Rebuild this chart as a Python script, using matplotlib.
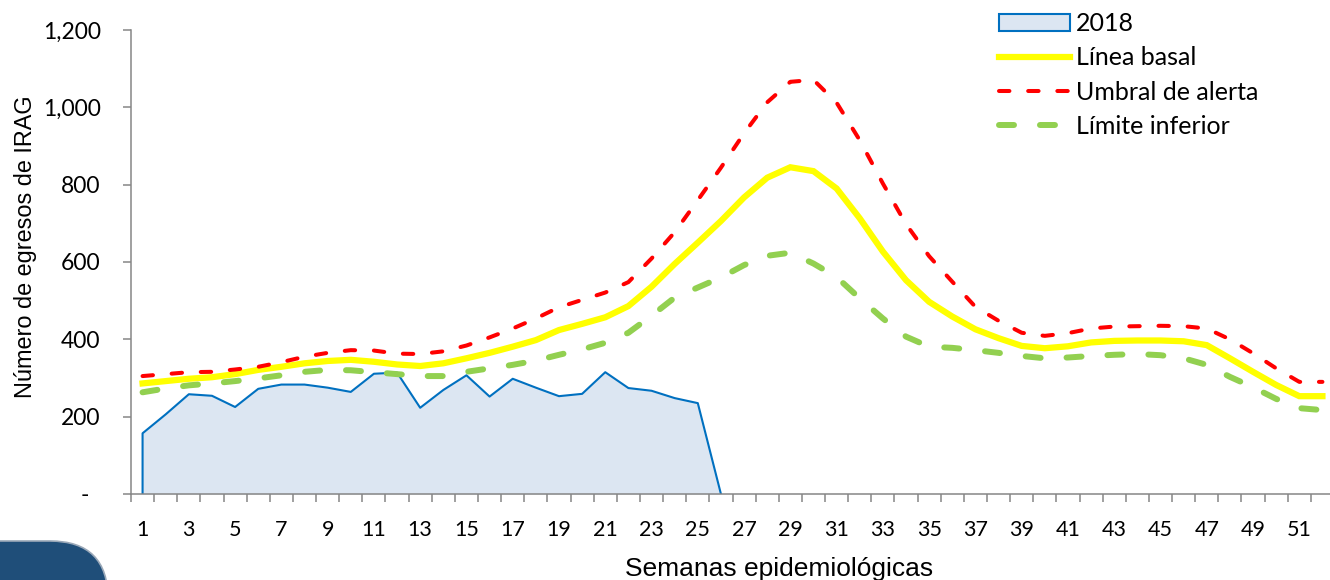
import matplotlib
matplotlib.use("Agg")
import matplotlib.pyplot as plt
import numpy as np
from matplotlib.lines import Line2D
from matplotlib.patches import Patch, FancyBboxPatch
from matplotlib.ticker import FixedLocator, FuncFormatter
from matplotlib.transforms import IdentityTransform

plt.rcParams['lines.scale_dashes'] = False

# Semanas epidemiológicas
semanas = np.arange(1, 53)

# Egresos IRAG 2018 (hasta la semana 26)
casos_2018 = [157, 206, 258, 254, 225, 272, 283, 283, 275, 264, 311, 314, 223,
              269, 307, 252, 298, 275, 253, 259, 315, 274, 267, 248, 235, 0]

# Canal endémico
linea_basal = [286, 292, 298, 302, 310, 321, 329, 338, 344, 347, 342, 335, 331,
               338, 351, 365, 381, 398, 424, 440, 457, 486, 536, 595, 650, 706,
               767, 818, 845, 835, 790, 713, 627, 553, 497, 459, 426, 403, 383,
               377, 382, 392, 396, 397, 397, 395, 385, 351, 316, 282, 253, 253]

umbral_alerta = [305, 310, 315, 316, 322, 329, 341, 355, 365, 372, 371, 363, 362,
                 369, 384, 405, 428, 454, 483, 502, 521, 548, 609, 677, 760, 844,
                 933, 1013, 1066, 1071, 1012, 915, 803, 698, 615, 549, 484, 448,
                 417, 409, 416, 428, 433, 434, 435, 434, 428, 400, 364, 325, 290, 290]

limite_inferior = [263, 273, 281, 286, 292, 299, 307, 316, 321, 320, 315, 310, 305,
                   305, 316, 325, 334, 345, 360, 374, 391, 417, 461, 508, 534, 560,
                   592, 616, 624, 596, 561, 506, 454, 407, 381, 378, 372, 365, 357,
                   351, 353, 357, 360, 362, 359, 351, 334, 303, 276, 246, 222, 217]

etiquetas = ["2018", "Línea basal", "Umbral de alerta", "Límite inferior"]

fuente_num = "Lato"
fuente_tit = "Liberation Sans"
gris = "#868686"

fig = plt.figure(figsize=(13.3, 5.8), dpi=100)
ax = fig.add_axes([131 / 1330, 1 - 494 / 580, (1334 - 131) / 1330, 464 / 580])

# área 2018
x18 = semanas[:len(casos_2018)]
ax.fill_between(x18, 0, casos_2018, color="#DCE6F2", lw=0, zorder=1)
ax.plot(np.r_[x18[0], x18], np.r_[0, casos_2018], color="#0070C0", lw=1.5, zorder=2)

ax.plot(semanas, linea_basal, color="#FFFF00", lw=4.5, solid_joinstyle="miter", zorder=3)
ax.plot(semanas, umbral_alerta, color="#FF0000", lw=2.9, dashes=(7.5, 13.5),
        dash_capstyle="round", zorder=4)
ax.plot(semanas, limite_inferior, color="#92D050", lw=4.3, dashes=(10.8, 18.7),
        dash_capstyle="round", zorder=4)

ax.set_xlim(0.5, 52.5)
ax.set_ylim(0, 1200)

for lado in ["top", "right"]:
    ax.spines[lado].set_visible(False)
for lado in ["left", "bottom"]:
    ax.spines[lado].set_color(gris)
    ax.spines[lado].set_linewidth(1.1)

# marcas entre semanas, etiquetas en semanas impares
ax.xaxis.set_major_locator(FixedLocator(np.arange(0.5, 53, 1)))
ax.xaxis.set_minor_locator(FixedLocator(np.arange(1, 53, 2)))
ax.xaxis.set_major_formatter(FuncFormatter(lambda v, p: ""))
ax.xaxis.set_minor_formatter(FuncFormatter(lambda v, p: f"{int(round(v))}"))
ax.tick_params(axis="x", which="major", direction="out", length=5.8, width=1.1, color=gris)
ax.tick_params(axis="x", which="minor", length=0, pad=19, labelsize=15.5)

ax.set_yticks(np.arange(0, 1201, 200))
ax.yaxis.set_major_formatter(FuncFormatter(lambda v, p: "-  " if v == 0 else f"{int(v):,}"))
ax.tick_params(axis="y", direction="out", length=5.8, width=1.1, color=gris, pad=16, labelsize=16.5)

for t in ax.get_xticklabels(minor=True) + ax.get_yticklabels():
    t.set_fontfamily(fuente_num)

ax.set_ylabel("Número de egresos de IRAG", fontsize=16.9, family=fuente_tit)
ax.yaxis.set_label_coords(-0.078, 0.534)
fig.text(779 / 1330, 1 - 576 / 580, "Semanas epidemiológicas", ha="center",
         va="baseline", fontsize=19, family=fuente_tit)

handles = [
    Patch(facecolor="#DCE6F2", edgecolor="#0070C0", lw=1.5),
    Line2D([], [], color="#FFFF00", lw=4.5),
    Line2D([], [], color="#FF0000", lw=2.9, dashes=(7.5, 13.5), dash_capstyle="round"),
    Line2D([], [], color="#92D050", lw=4.3, dashes=(10.8, 18.7), dash_capstyle="round"),
]
fig.legend(handles, etiquetas, loc="upper left", bbox_to_anchor=(999 / 1330, 1 - 12 / 580),
           frameon=False, borderpad=0, borderaxespad=0, handlelength=2.85,
           handletextpad=0.22, labelspacing=0.45, prop={"family": fuente_num, "size": 18})

# logo (esquina inferior izquierda)
logo = FancyBboxPatch((-100, -100), 208, 139, boxstyle="round,pad=0,rounding_size=58",
                      transform=IdentityTransform(), facecolor="#1F4E79",
                      edgecolor="#9aa8b8", lw=1.2, clip_on=False)
fig.patches.append(logo)

fig.savefig("out.png", dpi=100)
